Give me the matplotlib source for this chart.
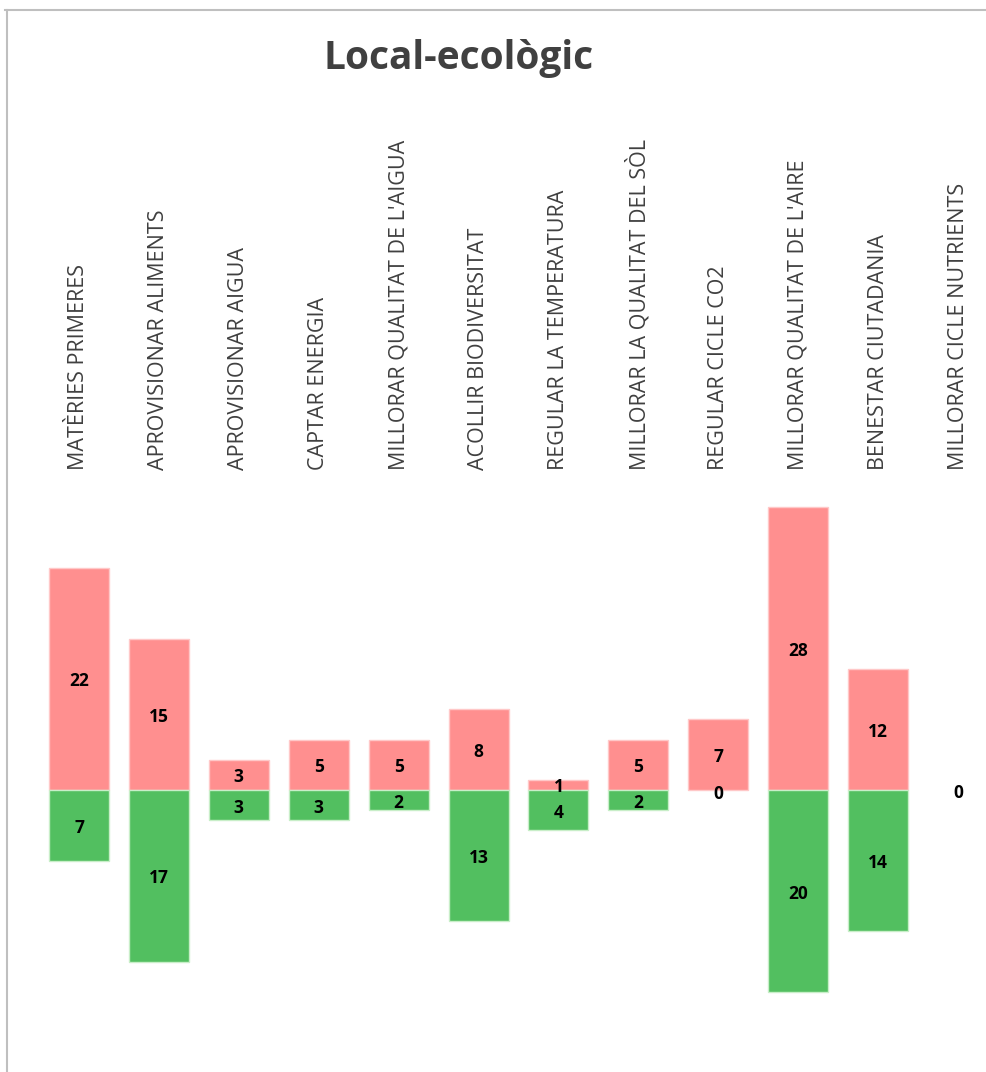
import matplotlib.pyplot as plt
from matplotlib.lines import Line2D
import matplotlib.transforms as mtransforms

# categories and values (pink = positive, green = negative)
categories = ["MATÈRIES PRIMERES", "APROVISIONAR ALIMENTS", "APROVISIONAR AIGUA",
              "CAPTAR ENERGIA", "MILLORAR QUALITAT DE L'AIGUA", "ACOLLIR BIODIVERSITAT",
              "REGULAR LA TEMPERATURA", "MILLORAR LA QUALITAT DEL SÒL", "REGULAR CICLE CO2",
              "MILLORAR QUALITAT DE L'AIRE", "BENESTAR CIUTADANIA", "MILLORAR CICLE NUTRIENTS"]
positius = [22, 15, 3, 5, 5, 8, 1, 5, 7, 28, 12, 0]
negatius = [7, 17, 3, 3, 2, 13, 4, 2, 0, 20, 14, 0]

W, H = 987, 1072
fig = plt.figure(figsize=(W / 100, H / 100), dpi=100)

# axes placed in pixel coords: zero line at y=790, ~10.1 px per unit
ax_top, ax_bot = 480, 1060
ax = fig.add_axes([39 / W, (H - ax_bot) / H, 959 / W, (ax_bot - ax_top) / H])
ppu = 10.1
ax.set_ylim(-(ax_bot - 790) / ppu, (790 - ax_top) / ppu)
ax.set_xlim(-0.5, len(categories) - 0.5)

x = list(range(len(categories)))
for i in x:
    if positius[i]:
        ax.bar(i, positius[i], width=0.75, color="#FF8F8F", edgecolor="#FFC8C8", linewidth=1)
    if negatius[i]:
        ax.bar(i, -negatius[i], width=0.75, color="#52BF60", edgecolor="#C8EEC8", linewidth=1)

lbl = dict(ha="center", va="center", fontsize=12.5, fontweight="bold",
           family="Open Sans", color="black")
off = -0.25  # small nudge down, like the original labels
for i in x:
    if positius[i] == 0 and negatius[i] == 0:
        # both labels sit on top of each other in the original
        ax.text(i, -0.3, "0", **lbl)
        continue
    ax.text(i, positius[i] / 2 + off, str(positius[i]), **lbl)
    ax.text(i, -negatius[i] / 2 + off - (0.1 if negatius[i] == 0 else 0), str(negatius[i]), **lbl)

# category labels above the plot
trans = mtransforms.blended_transform_factory(ax.transData, fig.transFigure)
for i, c in enumerate(categories):
    ax.text(i, (H - 470) / H, c, rotation=90, ha="center", va="bottom",
            fontsize=15.5, family="Open Sans", color="#404040", transform=trans)

for s in ax.spines.values():
    s.set_visible(False)
ax.set_xticks([])
ax.set_yticks([])

fig.text(459 / W, 1 - 58 / H, "Local-ecològic", ha="center", va="center",
         fontsize=28, fontweight="bold", family="Open Sans", color="#404040")

# chart frame (top and left border)
fig.add_artist(Line2D([5 / W, 1], [1 - 10 / H, 1 - 10 / H], color="#BFBFBF", lw=1.5,
                      transform=fig.transFigure))
fig.add_artist(Line2D([7 / W, 7 / W], [0, 1 - 10 / H], color="#BFBFBF", lw=1.5,
                      transform=fig.transFigure))

fig.savefig("out.png", dpi=100, facecolor="white")
